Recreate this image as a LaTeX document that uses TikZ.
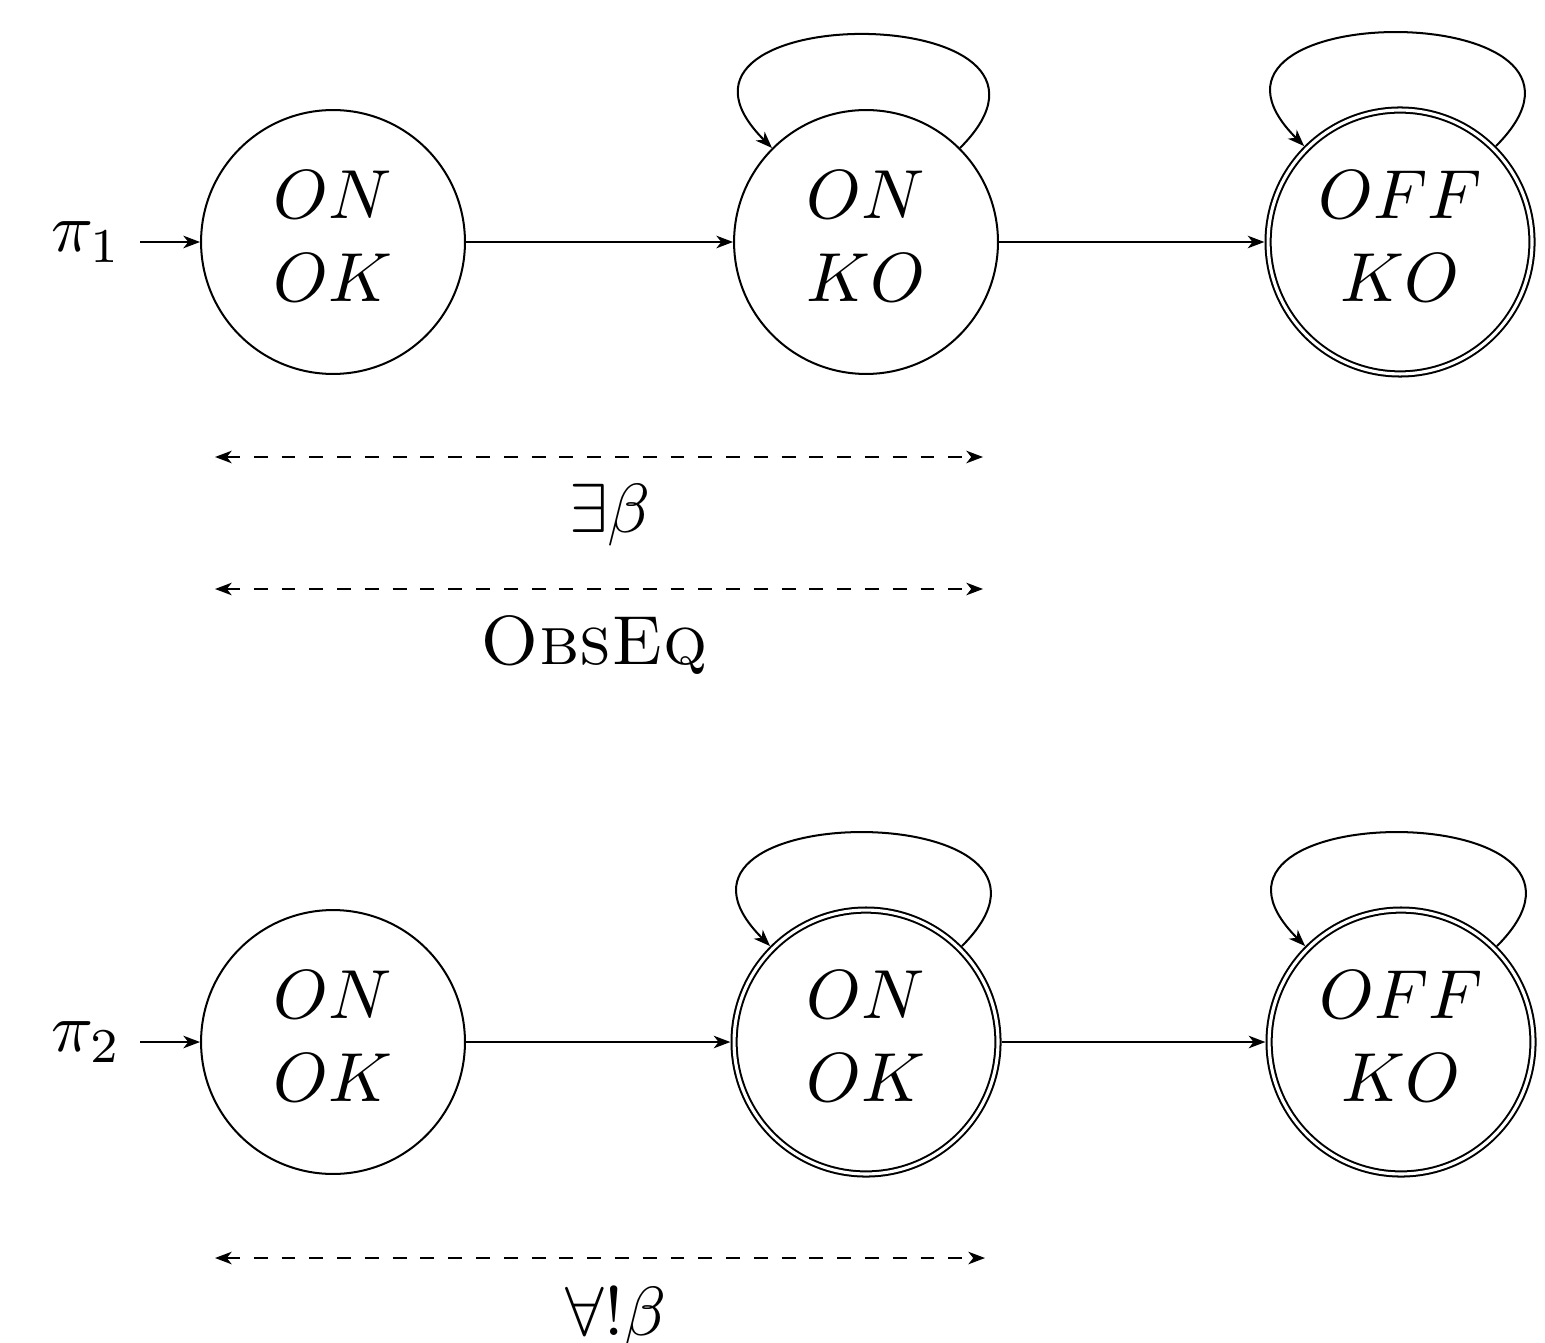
\documentclass[tikz,border=0pt]{standalone}
\usetikzlibrary{arrows.meta}
\begin{document}
\begin{tikzpicture}[x=0.144pt,y=-0.144pt,
  line width=0.29pt,
  >={Stealth[length=2.4pt,width=1.8pt,inset=0.7pt]},
  statenode/.style={circle,draw,minimum size=38pt,inner sep=0pt,align=center},
  finalnode/.style={statenode,double,double distance=0.45pt,outer sep=0.53pt},
  trans/.style={->},
  selfloop/.style={->},
  rel/.style={<->,dash pattern=on 2pt off 2pt},
  runname/.style={anchor=east,inner xsep=2.45pt},
  lbl/.style={anchor=base,inner sep=0pt}
]
\newcommand{\lowstrut}{\rule[-1.7pt]{0pt}{1pt}}
\useasboundingbox (0,0) rectangle (1545,1342);

% first run
\node[statenode]  (a1) at (333,242)  {$ON$\\$OK$\lowstrut};
\node[statenode]  (a2) at (866,242)  {$ON$\\$KO$\lowstrut};
\node[finalnode]  (a3) at (1400,242) {$OFF$\\$KO$\lowstrut};
\node[runname] (pi1) at (140,242) {$\pi_1$};

\draw[trans] (pi1) -- (a1);
\draw[trans] (a1) -- (a2);
\draw[trans] (a2) -- (a3);
\draw[selfloop] (a2.45) .. controls +(45:30.7pt) and +(135:30.7pt) .. (a2.135);
\draw[selfloop] (a3.45) .. controls +(45:30.7pt) and +(135:30.7pt) .. (a3.135);

% relations between the runs
\coordinate (r1l) at (215,457);
\coordinate (r1r) at (983,457);
\coordinate (r2l) at (215,589);
\coordinate (r2r) at (983,589);
\draw[rel] (r1l) -- (r1r);
\draw[rel] (r2l) -- (r2r);
\node[lbl] (ex) at (610,532) {$\exists\beta$};
\node[lbl] (oe) at (594,664) {\textsc{ObsEq}};

% second run
\node[statenode]  (b1) at (333,1042)  {$ON$\\$OK$\lowstrut};
\node[finalnode]  (b2) at (866,1042)  {$ON$\\$OK$\lowstrut};
\node[finalnode]  (b3) at (1401,1042) {$OFF$\\$KO$\lowstrut};
\node[runname] (pi2) at (140,1042) {$\pi_2$};

\draw[trans] (pi2) -- (b1);
\draw[trans] (b1) -- (b2);
\draw[trans] (b2) -- (b3);
\draw[selfloop] (b2.45) .. controls +(45:30.7pt) and +(135:30.7pt) .. (b2.135);
\draw[selfloop] (b3.45) .. controls +(45:30.7pt) and +(135:30.7pt) .. (b3.135);

\coordinate (r3l) at (215,1258);
\coordinate (r3r) at (985,1258);
\draw[rel] (r3l) -- (r3r);
\node[lbl] (fa) at (616,1335) {$\forall!\beta$};
\end{tikzpicture}
\end{document}
